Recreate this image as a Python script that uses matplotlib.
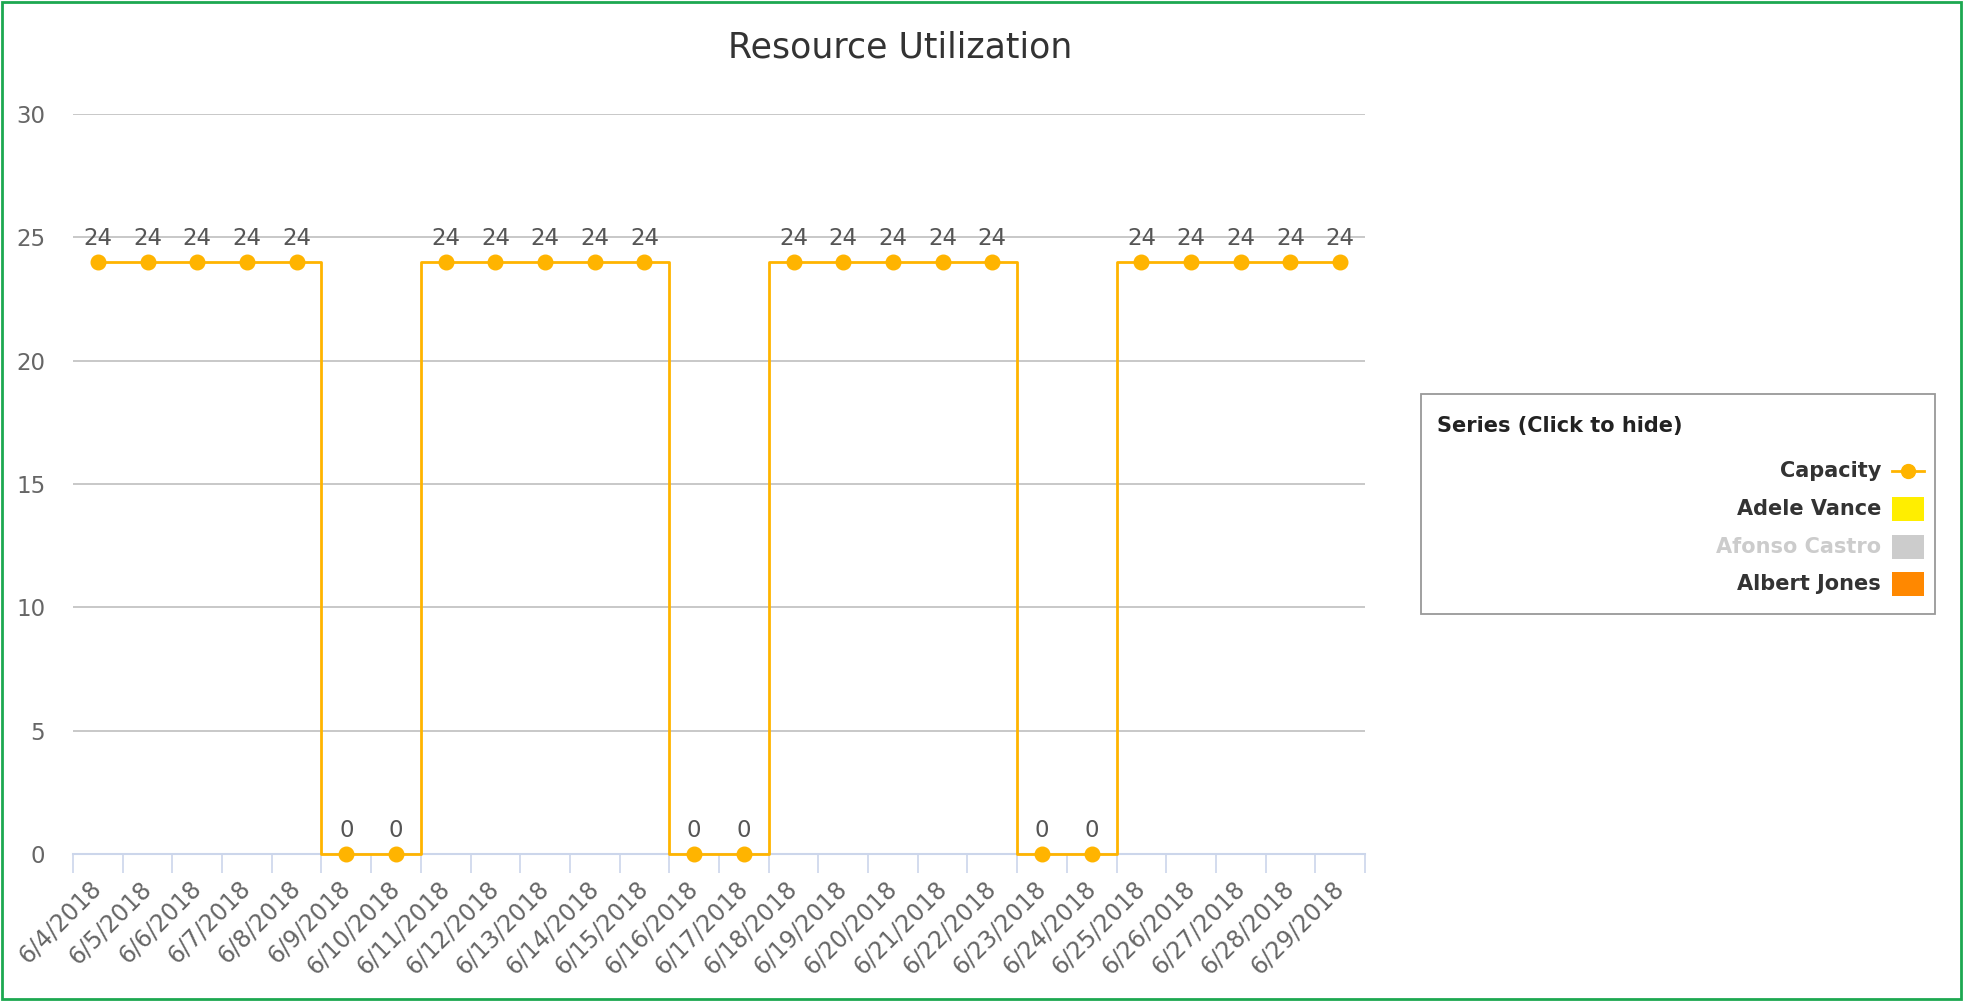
import matplotlib
matplotlib.use("Agg")
from matplotlib import pyplot as plt
from matplotlib.patches import Rectangle
from matplotlib.lines import Line2D

# data
dates = ["6/4/2018", "6/5/2018", "6/6/2018", "6/7/2018", "6/8/2018", "6/9/2018",
         "6/10/2018", "6/11/2018", "6/12/2018", "6/13/2018", "6/14/2018", "6/15/2018",
         "6/16/2018", "6/17/2018", "6/18/2018", "6/19/2018", "6/20/2018", "6/21/2018",
         "6/22/2018", "6/23/2018", "6/24/2018", "6/25/2018", "6/26/2018", "6/27/2018",
         "6/28/2018", "6/29/2018"]
capacity = [24, 24, 24, 24, 24, 0, 0, 24, 24, 24, 24, 24, 0, 0,
            24, 24, 24, 24, 24, 0, 0, 24, 24, 24, 24, 24]
yticks = [0, 5, 10, 15, 20, 25, 30]
legend_names = ["Capacity", "Adele Vance", "Afonso Castro", "Albert Jones"]
legend_colors = ["#FFB400", "#FFEE00", "#CCCCCC", "#FF8800"]
legend_hidden = [False, False, True, False]

plt.rcParams['font.family'] = ['DejaVu Sans']
W, H = 1963, 1001
fig = plt.figure(figsize=(W / 100, H / 100), dpi=100)

def fx(px):
    return px / W

def fy(py):
    return 1 - py / H

ax = fig.add_axes([fx(73), fy(854), fx(1365) - fx(73), fy(114) - fy(854)])
x = list(range(len(dates)))
ax.plot(x, capacity, drawstyle="steps-mid", color="#FFB400", linewidth=2.0, zorder=3, clip_on=False)
ax.plot(x, capacity, linestyle="none", marker="o", markersize=10.5, color="#FFB400",
        zorder=4, clip_on=False)
for i, v in enumerate(capacity):
    ax.annotate(str(v), (i, v), xytext=(0, 17), textcoords="offset points",
                ha="center", va="center", fontsize=16.5, color="#555555")

ax.set_xlim(-0.5, len(dates) - 0.5)
ax.set_ylim(0, 30)
ax.set_yticks(yticks)
ax.set_yticklabels([str(t) for t in yticks], fontsize=16.5, color="#666666")
ax.tick_params(axis="y", length=0, pad=20)
for t in yticks[1:]:
    ax.axhline(t, color="#c8c8c8", linewidth=1.4, zorder=1)

ax.set_xticks([i - 0.5 for i in range(len(dates) + 1)])
ax.set_xticklabels([])
ax.tick_params(axis="x", length=14, width=1.2, color="#ccd6eb")
for i, d in enumerate(dates):
    ax.annotate(d, (i, 0), xytext=(-6, -16), textcoords="offset points",
                rotation=45, ha="right", va="top", rotation_mode="anchor",
                fontsize=17, color="#666666", annotation_clip=False)

for s in ["top", "right", "left"]:
    ax.spines[s].set_visible(False)
ax.spines["bottom"].set_color("#ccd6eb")
ax.spines["bottom"].set_linewidth(1.5)

fig.text(fx(900), fy(48), "Resource Utilization", ha="center", va="center",
         fontsize=25, color="#333333")

# legend box
fig.patches.append(Rectangle((fx(1421), fy(614)), fx(1935) - fx(1421), fy(394) - fy(614),
                             transform=fig.transFigure, fill=False, edgecolor="#999999",
                             linewidth=1.3))
fig.text(fx(1437), fy(426), "Series (Click to hide)", ha="left", va="center",
         fontsize=15, fontweight="bold", color="#222222")
ys = [471, 509, 547, 584]
for name, col, hid, yy in zip(legend_names, legend_colors, legend_hidden, ys):
    fig.text(fx(1881), fy(yy), name, ha="right", va="center", fontsize=15,
             fontweight="bold", color="#cccccc" if hid else "#333333")
    if name == "Capacity":
        fig.lines.append(Line2D([fx(1892), fx(1924)], [fy(yy), fy(yy)],
                                transform=fig.transFigure, color=col, linewidth=2.0))
        fig.lines.append(Line2D([fx(1908)], [fy(yy)], transform=fig.transFigure,
                                marker="o", markersize=10, color=col))
    else:
        fig.patches.append(Rectangle((fx(1892), fy(yy + 12)), fx(32), fy(yy - 12) - fy(yy + 12),
                                     transform=fig.transFigure, facecolor=col, edgecolor="none"))

# outer green frame
fig.patches.append(Rectangle((0.0008, 0.0015), 0.998, 0.997, transform=fig.transFigure,
                             fill=False, edgecolor="#1DA851", linewidth=2.0))

fig.savefig("out.png", dpi=100)
